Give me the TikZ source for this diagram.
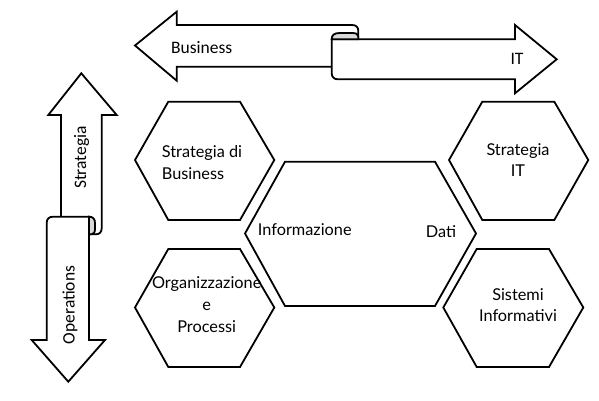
\documentclass[tikz,border=0pt]{standalone}
\usepackage{fontspec}
\setmainfont{Lato}
\newfontfamily\ribfont{Carlito}
\begin{document}
\begin{tikzpicture}[x=1pt,y=-1pt,
  line/.style={draw=black,line width=1.8pt,line join=miter},
  ribbon/.style={line,fill=white},
  curl/.style={line,fill=gray!30},
  hexa/.style={line,fill=white},
  ribtext/.style={font=\ribfont\fontsize{17.5}{21}\selectfont,inner sep=0pt},
  hextext/.style={font=\fontsize{16.3}{21.7}\selectfont,inner sep=0pt}]
\useasboundingbox (0,0) rectangle (599,401);
% horizontal ribbon
\draw[ribbon] (135,45.5) -- (176.7,11.7) -- (176.7,25) -- (352,25)
  .. controls (356,25) and (358.3,27) .. (358.3,31) -- (358.3,66.7)
  -- (176.7,66.7) -- (176.7,80.7) -- cycle;
\draw[ribbon] (331.7,39.3) -- (515,39.3) -- (515,25) -- (556.7,59.3)
  -- (515,93.3) -- (515,79.3) -- (338,79.3)
  .. controls (334,79.3) and (331.7,77) .. (331.7,73) -- cycle;
\draw[curl] (331.7,39.3) .. controls (331.7,35) and (334,33) .. (340,33)
  -- (352,33) .. controls (356,33) and (358.3,34) .. (358.3,36.5)
  -- (358.3,39.3) -- cycle;
\node[ribtext] (business) at (201.7,47.3) {Business};
\node[ribtext] (it) at (517,59.3) {IT};
% vertical ribbon
\draw[ribbon] (81.3,73.3) -- (116.7,115) -- (101.7,115) -- (101.7,228)
  .. controls (101.7,232) and (99.7,234.3) .. (95.7,234.3)
  -- (61,234.3) -- (61,115) -- (48.3,115) -- cycle;
\draw[ribbon] (89,216.7) -- (89,340) -- (105,340) -- (68.3,381.7)
  -- (31.7,340) -- (46.7,340) -- (46.7,223)
  .. controls (46.7,219) and (49,216.7) .. (53,216.7) -- cycle;
\draw[curl] (89,216.7) .. controls (93,216.7) and (95,219) .. (95,223)
  -- (95,229) .. controls (95,232.5) and (93.5,234.3) .. (91.5,234.3)
  -- (89,234.3) -- cycle;
\node[ribtext,rotate=90] (strategia) at (81.7,157.5) {Strategia};
\node[ribtext,rotate=90] (operations) at (70,305) {Operations};
% hexagons
\draw[hexa] (135,160) -- (168.3,101.7) -- (240,101.7) -- (274.3,160) -- (240,220) -- (168.3,220) -- cycle;
\draw[hexa] (135,307.5) -- (168.3,249) -- (240,249) -- (274.3,307.5) -- (240,367) -- (168.3,367) -- cycle;
\draw[hexa] (245,233.5) -- (285,161.7) -- (435,161.7) -- (476,233.5) -- (435,306) -- (285,306) -- cycle;
\draw[hexa] (449,160) -- (482.3,101.7) -- (554.3,101.7) -- (588.3,160) -- (554.3,220) -- (482.3,220) -- cycle;
\draw[hexa] (443.3,307.5) -- (476.7,249) -- (549,249) -- (583.3,307.5) -- (549,367) -- (476.7,367) -- cycle;
\node[hextext,align=left,anchor=west] (sb) at (161.7,162.3) {Strategia di\\Business};
\node[hextext,align=center] (sit) at (518,160) {Strategia\\IT};
\node[hextext,align=center] (si) at (518,305) {Sistemi\\Informativi};
\node[hextext,align=center] (op) at (206.7,304.5) {Organizzazione\\e\\Processi};
\node[hextext,anchor=west] (info) at (257.7,230) {Informazione};
\node[hextext,anchor=west] (dati) at (425.7,232) {Dati};
\end{tikzpicture}
\end{document}
